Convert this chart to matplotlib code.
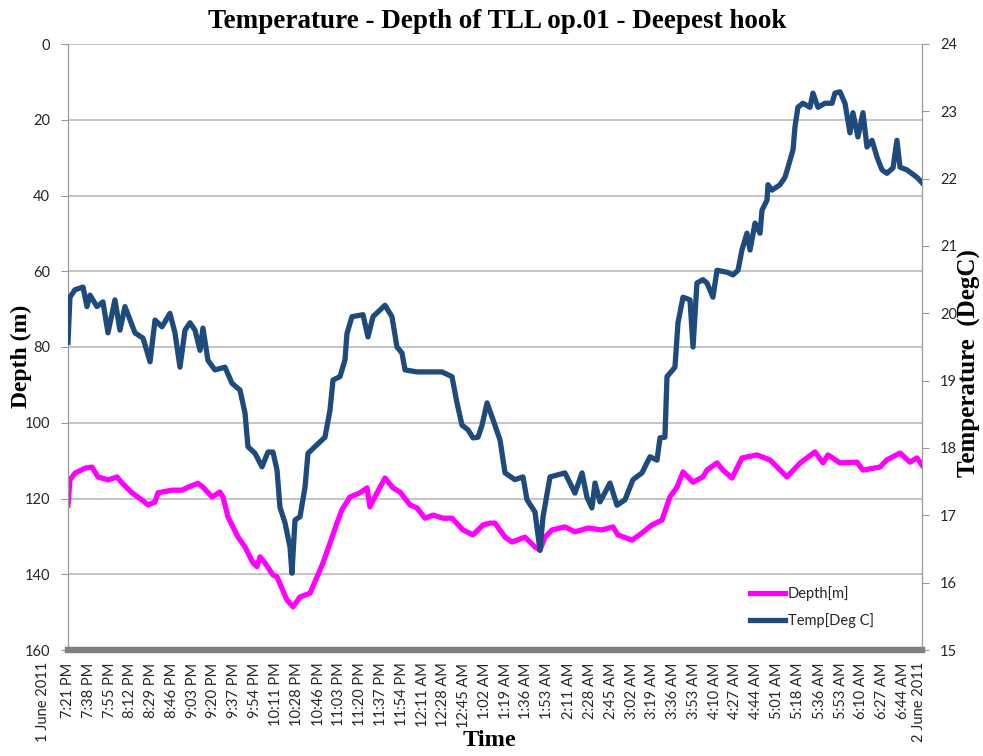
import matplotlib
matplotlib.use("Agg")
import matplotlib.pyplot as plt
import matplotlib.transforms as mtransforms

# ---- data (minutes after 7:21 PM, 1 June 2011) ----
depth_t = [0, 1.6, 5.7, 13.9, 19.6, 24.5, 32.7, 40.1, 44.2, 52.4, 60.5, 65.4, 71.2, 73.6,
           85.1, 93.3, 98.2, 106.3, 110.4, 117.8, 124.3, 126.8, 130.9, 139.1, 144.8, 151.3,
           154.6, 157.1, 161.1, 167.7, 171, 179.1, 184.1, 189.8, 198, 203.7, 208.6, 214.3,
           220, 224.1, 230.7, 238.9, 244.6, 247, 252.8, 259.3, 265.9, 271.6, 279.8, 285.5,
           292, 298.6, 306.8, 314.1, 323.1, 331.3, 339.5, 345.2, 349.3, 357.5, 363.2, 373.8,
           382, 386.1, 390.2, 395.9, 406.5, 414.7, 425.4, 436.8, 445.8, 449.9, 461.4, 469.5,
           477.7, 485.9, 492.4, 498.2, 503.1, 511.3, 519.4, 522.7, 530.9, 535.8, 543.2, 551.3,
           563.6, 574.2, 588.1, 599, 611, 617.6, 621.7, 631.5, 645.4, 650.3, 664.2, 669.9,
           680.6, 688.8, 694.5, 698.6]
depth_m = [121.7, 115.1, 113.3, 112, 111.7, 114.3, 115.1, 114.3, 115.9, 118.5, 120.4, 121.7,
           120.9, 118.5, 117.8, 117.8, 117, 116, 117, 119.6, 118.3, 119.6, 124.9, 130.2, 132.8,
           137, 138, 135.4, 137, 140.2, 140.7, 146.8, 148.6, 146, 145, 140.7, 137, 131.8, 126.5,
           123, 119.6, 118.5, 117.2, 122.2, 118.5, 114.6, 117.2, 118.3, 121.7, 122.5, 125.2,
           124.4, 125.2, 125.2, 128.3, 129.6, 127, 126.5, 126.5, 130.2, 131.5, 130.2, 132.8,
           133.6, 130.2, 128.3, 127.5, 128.8, 127.8, 128.3, 127.5, 129.6, 131, 129.1, 127,
           125.7, 119.6, 117, 113, 115.7, 114.3, 112.5, 110.6, 112.5, 114.6, 109.3, 108.5,
           109.8, 114.3, 110.6, 107.7, 110.6, 108.5, 110.6, 110.4, 112.5, 111.7, 109.8, 108,
           110.4, 109.3, 111.2]

temp_t = [0, 1.6, 5.7, 12.3, 15.5, 18, 23.7, 28.6, 32.7, 38.4, 42.5, 46.6, 54.8, 61.4, 67.1,
          71.2, 76.9, 83.4, 87.5, 91.6, 95.7, 99.8, 103.9, 108, 110.4, 114.5, 120.2, 128.4,
          134.2, 140.7, 144.8, 147.2, 153, 158.7, 163.6, 167.7, 171, 173.4, 177.5, 181.6,
          183.2, 185.7, 189.8, 193.9, 196.3, 202, 210.2, 214.3, 216.8, 222.5, 226.6, 228.2,
          232.3, 241.3, 245.4, 249.5, 259.3, 265, 269.1, 273.2, 275.7, 285.5, 298.6, 305.9,
          314.1, 318.2, 322.3, 327.2, 331.3, 335.4, 338.7, 342.8, 347.7, 353.4, 357.5, 365.6,
          372.2, 375.5, 382, 386.1, 388.6, 394.3, 406.5, 410.6, 414.7, 420.5, 424.5, 428.6,
          431.1, 435.2, 443.4, 449.1, 455.6, 462.2, 469.5, 476.1, 481.8, 484.3, 488.3, 490,
          496.5, 499, 503.1, 508.8, 511.3, 514.5, 519.4, 522.7, 527.6, 530.9, 539.1, 544,
          548.1, 551.3, 555.4, 557.9, 562, 566.1, 567.7, 571.8, 572.6, 575.9, 582.4, 586.5,
          589, 593.1, 594.7, 597.1, 601.2, 607, 609.4, 613.5, 619.2, 625, 627.4, 631.5, 635.6,
          639.7, 642.1, 646.2, 650.3, 653.6, 657.7, 661.8, 665.9, 669.9, 674.9, 678.1, 680.6,
          686.3, 694.5, 698.6]
temp_c = [19.57, 20.24, 20.35, 20.39, 20.1, 20.27, 20.1, 20.17, 19.71, 20.2, 19.75, 20.1,
          19.71, 19.63, 19.28, 19.9, 19.8, 20.0, 19.71, 19.2, 19.75, 19.86, 19.75, 19.45,
          19.78, 19.3, 19.16, 19.2, 18.96, 18.86, 18.52, 18.02, 17.92, 17.72, 17.94, 17.94,
          17.67, 17.12, 16.89, 16.53, 16.14, 16.93, 16.98, 17.42, 17.92, 18.02, 18.16, 18.56,
          19.01, 19.06, 19.31, 19.7, 19.95, 19.98, 19.65, 19.95, 20.12, 19.95, 19.5, 19.41,
          19.16, 19.13, 19.13, 19.13, 19.06, 18.67, 18.34, 18.27, 18.15, 18.16, 18.34, 18.67,
          18.42, 18.12, 17.63, 17.53, 17.57, 17.23, 17.05, 16.48, 16.98, 17.57, 17.63, 17.48,
          17.33, 17.63, 17.27, 17.11, 17.48, 17.2, 17.48, 17.15, 17.23, 17.53, 17.63, 17.87,
          17.82, 18.15, 18.16, 19.06, 19.2, 19.86, 20.24, 20.2, 19.5, 20.45, 20.5, 20.45,
          20.24, 20.64, 20.61, 20.57, 20.64, 20.94, 21.19, 20.94, 21.34, 21.19, 21.53, 21.68,
          21.91, 21.83, 21.91, 22.02, 22.17, 22.43, 22.77, 23.06, 23.12, 23.06, 23.27, 23.06,
          23.12, 23.12, 23.27, 23.29, 23.12, 22.68, 22.98, 22.62, 22.98, 22.47, 22.57, 22.32,
          22.13, 22.08, 22.16, 22.57, 22.17, 22.13, 22.02, 21.94]

time_labels = ["7:21 PM", "7:38 PM", "7:55 PM", "8:12 PM", "8:29 PM", "8:46 PM", "9:03 PM",
               "9:20 PM", "9:37 PM", "9:54 PM", "10:11 PM", "10:28 PM", "10:46 PM", "11:03 PM",
               "11:20 PM", "11:37 PM", "11:54 PM", "12:11 AM", "12:28 AM", "12:45 AM",
               "1:02 AM", "1:19 AM", "1:36 AM", "1:53 AM", "2:11 AM", "2:28 AM", "2:45 AM",
               "3:02 AM", "3:19 AM", "3:36 AM", "3:53 AM", "4:10 AM", "4:27 AM", "4:44 AM",
               "5:01 AM", "5:18 AM", "5:36 AM", "5:53 AM", "6:10 AM", "6:27 AM", "6:44 AM"]
date_labels = ["1 June 2011", "2 June 2011"]
depth_ticks = [0, 20, 40, 60, 80, 100, 120, 140, 160]
temp_ticks = [15, 16, 17, 18, 19, 20, 21, 22, 23, 24]


def to_minutes(lbl):
    hm, ap = lbl.split()
    h, m = map(int, hm.split(":"))
    h = h % 12 + (12 if ap == "PM" else 0)
    total = h * 60 + m
    start = 19 * 60 + 21
    if total < start:
        total += 24 * 60
    return total - start


tick_pos = [to_minutes(l) for l in time_labels]

TICK_FONT = ["Lato", "DejaVu Sans"]
SERIF = "Liberation Serif"
MAGENTA = "#FF00FF"
NAVY = "#1F4A7C"
GRID = "#BFBFBF"
TXT = "#262626"

fig = plt.figure(figsize=(9.83, 7.56), dpi=100)
ax = fig.add_axes([68 / 983, 1 - 650 / 756, (922 - 68) / 983, (650 - 44) / 756])
ax2 = ax.twinx()

ax.plot(depth_t, depth_m, color=MAGENTA, lw=3.8, solid_joinstyle="round", label="Depth[m]", zorder=3)
ax2.plot(temp_t, temp_c, color=NAVY, lw=3.8, solid_joinstyle="round", label="Temp[Deg C]", zorder=3)

ax.set_xlim(0, 698.6)
ax.set_ylim(160, 0)
ax2.set_ylim(15, 24)
ax.set_yticks(depth_ticks)
ax2.set_yticks(temp_ticks)
ax.yaxis.grid(True, color=GRID, lw=1.3)
ax.set_axisbelow(True)

ax.set_xticks(tick_pos)
ax.set_xticklabels(time_labels, rotation=90, fontfamily=TICK_FONT, fontsize=10.5, color=TXT)
ax.tick_params(axis="x", length=0, pad=9)
ax.tick_params(axis="y", length=5, color="#999999", labelsize=10.5, pad=8, labelcolor=TXT)
ax2.tick_params(axis="y", length=5, color="#999999", labelsize=10.5, pad=8, labelcolor=TXT)
for lab in ax.get_yticklabels() + ax2.get_yticklabels():
    lab.set_fontfamily(TICK_FONT)

for a in (ax, ax2):
    a.spines["top"].set_visible(False)
    a.spines["left"].set_color("#999999")
    a.spines["right"].set_color("#999999")
    a.spines["bottom"].set_color("#808080")
    a.spines["bottom"].set_linewidth(4.5)

trans = mtransforms.blended_transform_factory(ax.transData, ax.transAxes)
ax.text(-20.5, -0.02, date_labels[0], rotation=90, ha="center", va="top", color=TXT,
        fontfamily=TICK_FONT, fontsize=10.5, transform=trans)
ax.text(696, -0.02, date_labels[1], rotation=90, ha="center", va="top", color=TXT,
        fontfamily=TICK_FONT, fontsize=10.5, transform=trans)

fig.text(0.506, 1 - 22 / 756, "Temperature - Depth of TLL op.01 - Deepest hook",
         ha="center", va="center", fontfamily=SERIF, fontweight="bold", fontsize=19.5)
fig.text(489 / 983, 1 - 741 / 756, "Time", ha="center", va="center",
         fontfamily=SERIF, fontweight="bold", fontsize=17.5)
fig.text(21 / 983, 1 - 356 / 756, "Depth (m)", ha="center", va="center", rotation=90,
         fontfamily=SERIF, fontweight="bold", fontsize=17)
fig.text(969 / 983, 1 - 363 / 756, "Temperature  (DegC)", ha="center", va="center", rotation=90,
         fontfamily=SERIF, fontweight="bold", fontsize=18)

h1, l1 = ax.get_legend_handles_labels()
h2, l2 = ax2.get_legend_handles_labels()
leg = ax2.legend(h1 + h2, l1 + l2, loc="lower left", bbox_to_anchor=(0.783, 0.015),
                 frameon=False, handlelength=2.4, handletextpad=0.2, labelspacing=0.8,
                 prop={"family": TICK_FONT, "size": 10.5})
for t in leg.get_texts():
    t.set_color(TXT)

fig.savefig("out.png", dpi=100)
